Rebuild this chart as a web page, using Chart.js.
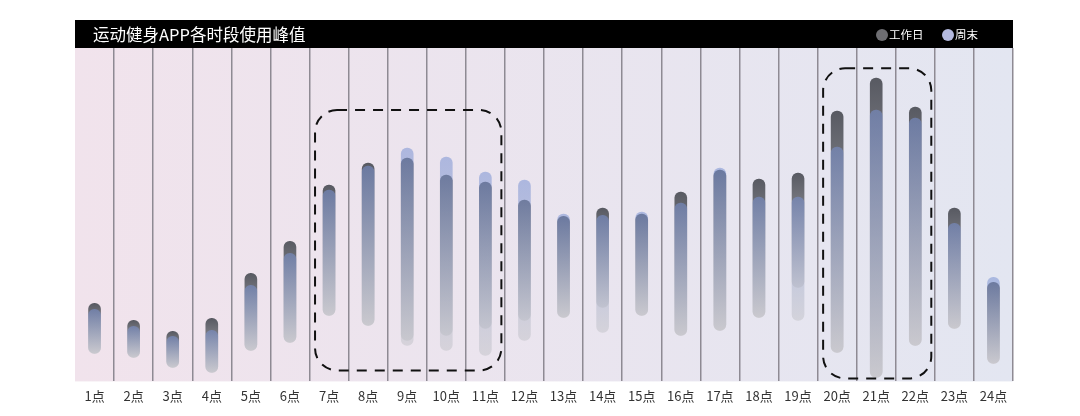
<!DOCTYPE html>
<html>
<head>
<meta charset="utf-8">
<script src="https://cdn.jsdelivr.net/npm/chart.js@4/dist/chart.umd.min.js"></script>
<style>
    html, body { margin: 0; padding: 0; background: #ffffff; }
    #wrap { width: 1080px; height: 416px; position: relative; }
</style>
</head>
<body>
<div id="wrap"><canvas id="myChart" width="1080" height="416"></canvas></div>
<script>
const hours = ['1点', '2点', '3点', '4点', '5点', '6点', '7点', '8点', '9点', '10点', '11点', '12点',
    '13点', '14点', '15点', '16点', '17点', '18点', '19点', '20点', '21点', '22点', '23点', '24点'];

// 工作日 floating bars: low / high
const workdayLow = [8.4, 7.2, 4.2, 2.7, 9.3, 11.7, 19.8, 16.8, 12.3, 13.8, 15.9, 18.3,
    19.2, 22.2, 19.8, 13.8, 15.3, 19.2, 28.2, 8.7, 1.2, 10.8, 15.9, 5.4];
const workdayHigh = [23.4, 18.3, 15.0, 18.9, 32.4, 42.0, 58.9, 65.5, 67.0, 61.9, 59.8, 54.4,
    49.5, 52.0, 50.2, 56.8, 63.4, 60.7, 62.5, 81.1, 91.0, 82.3, 52.0, 29.7];

// 周末 floating bars: low / high
const weekendLow = [8.4, 7.2, 4.2, 2.7, 9.3, 11.7, 19.8, 16.8, 10.8, 9.3, 7.8, 12.3,
    19.2, 14.7, 19.8, 13.8, 15.3, 19.2, 18.3, 8.7, 1.2, 10.8, 15.9, 5.4];
const weekendHigh = [21.6, 16.5, 13.5, 15.3, 28.8, 38.4, 57.4, 64.6, 70.0, 67.3, 62.8, 60.4,
    50.2, 49.8, 50.8, 53.5, 64.0, 55.3, 55.3, 70.3, 81.4, 79.0, 47.4, 31.2];

// highlighted ranges (category index from / to, value top / bottom)
const highlights = [
    { from: 6, to: 10, top: 81.4, bottom: 3.3 },
    { from: 19, to: 21, top: 93.9, bottom: 0.9 }
];

const chartTitle = '运动健身APP各时段使用峰值';

function pairs(low, high) {
    return low.map((v, i) => [v, high[i]]);
}

function barGradient(topColor, bottomColor) {
    return function(ctx) {
        const chart = ctx.chart;
        if (!chart.chartArea || !ctx.raw) return topColor;
        const y = chart.scales.y;
        const yTop = y.getPixelForValue(ctx.raw[1]);
        const yBottom = y.getPixelForValue(ctx.raw[0]);
        const g = chart.ctx.createLinearGradient(0, yTop, 0, yBottom);
        g.addColorStop(0, topColor);
        g.addColorStop(1, bottomColor);
        return g;
    };
}

// background + header bar + dashed boxes
const decoPlugin = {
    id: 'deco',
    beforeDraw(chart) {
        const { ctx, chartArea } = chart;
        ctx.save();
        const bg = ctx.createLinearGradient(chartArea.left, 0, chartArea.right, 0);
        bg.addColorStop(0, '#f1e3ec');
        bg.addColorStop(1, '#e3e6f1');
        ctx.fillStyle = bg;
        ctx.fillRect(chartArea.left, chartArea.top, chartArea.right - chartArea.left, chartArea.bottom - chartArea.top);

        // header
        ctx.fillStyle = '#000000';
        ctx.fillRect(chartArea.left, 20, chartArea.right - chartArea.left, 28);
        ctx.fillStyle = '#ffffff';
        ctx.textBaseline = 'middle';
        ctx.font = '16.5px "Noto Sans CJK SC"';
        ctx.fillText(chartTitle, chartArea.left + 18, 35);

        // legend
        const items = [
            { x: 882, color: '#6e6e72', label: chart.data.datasets[0].label },
            { x: 948, color: '#b3b9de', label: chart.data.datasets[1].label }
        ];
        ctx.font = '11.5px "Noto Sans CJK SC"';
        items.forEach(it => {
            ctx.beginPath();
            ctx.arc(it.x, 35, 6, 0, Math.PI * 2);
            ctx.fillStyle = it.color;
            ctx.fill();
            ctx.fillStyle = '#ffffff';
            ctx.fillText(it.label, it.x + 7, 35);
        });
        ctx.restore();
    },
    afterDatasetsDraw(chart) {
        const { ctx } = chart;
        const x = chart.scales.x, y = chart.scales.y;
        ctx.save();
        ctx.strokeStyle = '#111111';
        ctx.lineWidth = 2;
        ctx.setLineDash([10, 8]);
        highlights.forEach(h => {
            const left = x.getPixelForValue(h.from) - 14;
            const right = x.getPixelForValue(h.to) + 16;
            const top = y.getPixelForValue(h.top);
            const bottom = y.getPixelForValue(h.bottom);
            ctx.beginPath();
            ctx.roundRect(left, top, right - left, bottom - top, 22);
            ctx.stroke();
        });
        ctx.restore();
    }
};

const ctx = document.getElementById('myChart').getContext('2d');
const myChart = new Chart(ctx, {
    type: 'bar',
    data: {
        labels: hours,
        datasets: [{
            label: '工作日',
            data: pairs(workdayLow, workdayHigh),
            backgroundColor: barGradient('rgba(88, 90, 98, 1)', 'rgba(208, 206, 212, 1)'),
            order: 2
        }, {
            label: '周末',
            data: pairs(weekendLow, weekendHigh),
            backgroundColor: barGradient('rgba(122, 146, 210, 0.55)', 'rgba(196, 196, 202, 0.55)'),
            order: 1
        }]
    },
    options: {
        responsive: false,
        animation: false,
        layout: {
            padding: { left: 75, right: 67, top: 48, bottom: 5 }
        },
        datasets: {
            bar: {
                grouped: false,
                barThickness: 12,
                borderRadius: 6,
                borderSkipped: false
            }
        },
        scales: {
            x: {
                grid: {
                    offset: true,
                    drawTicks: false,
                    lineWidth: 1.5,
                    color: c => (c.index === 0 || c.index >= 24) ? 'rgba(0,0,0,0)' : '#8e8a93'
                },
                border: { display: false },
                ticks: {
                    padding: 7,
                    color: '#333333',
                    font: { family: '"Noto Sans CJK SC"', size: 13 }
                }
            },
            y: {
                display: false,
                min: 0,
                max: 100
            }
        },
        plugins: {
            legend: { display: false },
            tooltip: { enabled: true }
        }
    },
    plugins: [decoPlugin]
});
</script>
</body>
</html>
